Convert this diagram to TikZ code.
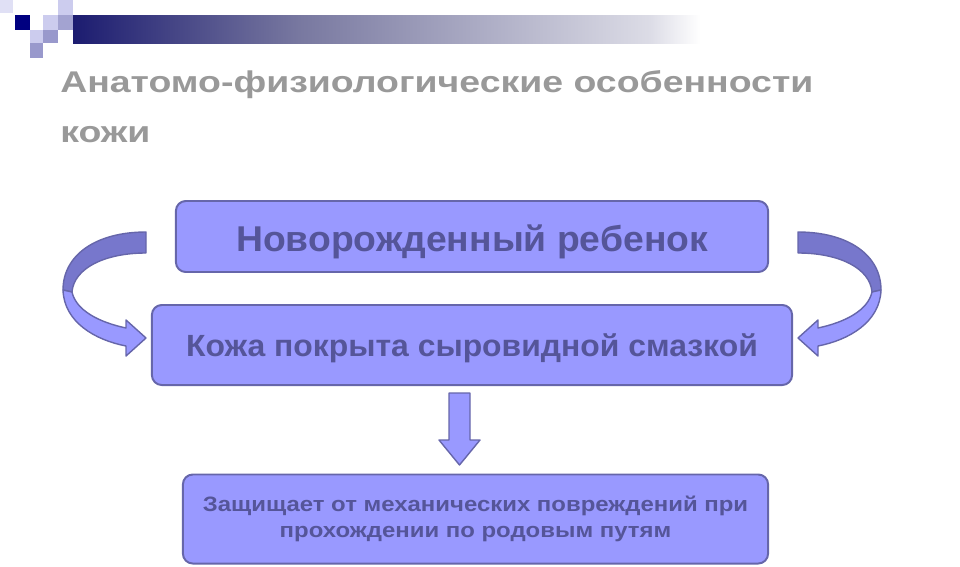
\documentclass[tikz,border=0pt]{standalone}
\usepackage{fontspec}
\setmainfont{Liberation Sans}
\newfontfamily\titlefont{Liberation Sans}[FakeStretch=1.25]
\newfontfamily\boxfont{Liberation Sans}[FakeStretch=1.04]
\newfontfamily\notefont{Liberation Sans}[FakeStretch=1.15]
\usepackage{tikz}

\definecolor{boxfill}{HTML}{9999FF}
\definecolor{boxline}{HTML}{6666AA}
\definecolor{boxtext}{HTML}{555599}
\definecolor{titlegray}{HTML}{999999}
\definecolor{bandback}{HTML}{7777CC}
\definecolor{hdrnavy}{HTML}{000080}
\definecolor{hdrlight}{HTML}{CCCCEE}
\definecolor{hdrmid}{HTML}{9999CC}
\definecolor{barA}{HTML}{1C1C70}
\definecolor{barB}{HTML}{7878A0}
\definecolor{barC}{HTML}{DCDCE6}
\pgfdeclarehorizontalshading{hdrbar}{100bp}{color(0bp)=(barA); color(25bp)=(barA); color(43bp)=(barB); color(71bp)=(barC); color(75bp)=(white); color(100bp)=(white)}

\tikzset{
  box/.style={draw=boxline, fill=boxfill, line width=1.4pt, rounded corners=7pt,
    text=boxtext, align=center, inner sep=0pt},
  title/.style={text=titlegray, font=\titlefont\bfseries\fontsize{21.3}{26}\selectfont, inner sep=0pt, anchor=base west},
  blockarrow/.style={fill=boxfill, draw=boxline, line width=1pt, line join=round},
  bentarrow/.pic={
    % back of the band
    \filldraw [blockarrow, fill=bandback]
      (146,232) .. controls (96,232) and (63,255) .. (63,290) -- (72,292)
      .. controls (74,268) and (105,253) .. (146,253) -- cycle;
    % front of the band and head
    \filldraw [blockarrow]
      (63,290) .. controls (64,322) and (95,340) .. (126,346) -- (126,356)
      -- (146,338) -- (126,320) -- (126,328)
      .. controls (98,322) and (76,310) .. (72,292) -- cycle;
  }
}

\begin{document}
\begin{tikzpicture}[x=0.025cm, y=-0.025cm]
    \useasboundingbox (0,0) rectangle (960,566);
    % header squares and bar
    \fill [hdrlight!60!white] (0,0) rectangle (13,13);
    \fill [hdrnavy] (15,15) rectangle (30,30);
    \fill [hdrlight] (43,15) rectangle (58,30);
    \fill [hdrmid!90!white] (58,15) rectangle (73,30);
    \fill [hdrlight] (58,0) rectangle (73,15);
    \fill [hdrlight] (30,30) rectangle (43,43);
    \fill [hdrmid] (43,30) rectangle (58,43);
    \fill [hdrmid] (30,43) rectangle (43,58);
    \shade [shading=hdrbar] (73,15) rectangle (700,43);
    % title
    \node (0) [title] at (60,92) {Анатомо-физиологические особенности};
    \node (1) [title] at (60,142) {кожи};
    % boxes
    \node (2) [box, minimum width=14.8cm, minimum height=1.775cm, text height=21.5pt, text depth=0pt,
      font=\boxfont\bfseries\fontsize{25.5}{30}\selectfont] at (472,236.5) {Новорожденный ребенок};
    \node (3) [box, minimum width=16cm, minimum height=2cm, text height=16.6pt, text depth=0pt,
      font=\boxfont\bfseries\fontsize{21.8}{26}\selectfont] at (472,345) {Кожа покрыта сыровидной смазкой};
    \node (4) [box, minimum width=14.625cm, minimum height=2.225cm,
      font=\notefont\bfseries\fontsize{14.8}{18.4}\selectfont] at (475.5,519)
      {Защищает от механических повреждений при\\прохождении по родовым путям};
    % arrows
    \pic at (0,0) {bentarrow};
    \pic [xscale=-1] at (944,0) {bentarrow};
    \filldraw [blockarrow] (449,393) -- (470,393) -- (470,440) -- (480,440)
      -- (459.5,465) -- (439,440) -- (449,440) -- cycle;
\end{tikzpicture}
\end{document}
